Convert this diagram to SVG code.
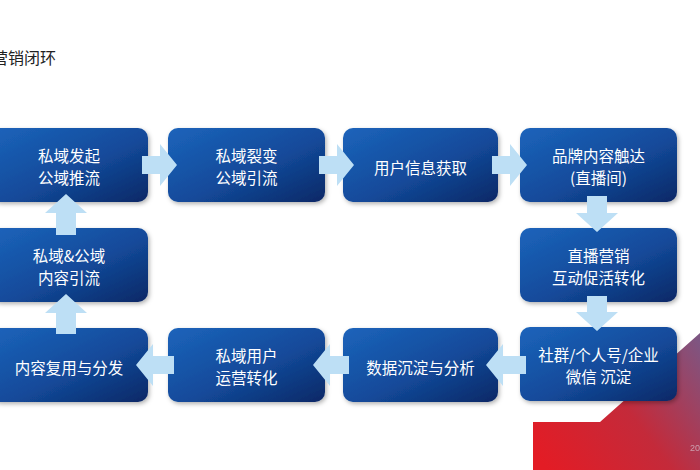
<svg xmlns="http://www.w3.org/2000/svg" width="700" height="470" viewBox="0 0 700 470">
<defs>
<linearGradient id="boxg" x1="0" y1="0" x2="1" y2="1">
<stop offset="0" stop-color="#1c64bb"/>
<stop offset="0.55" stop-color="#134a9a"/>
<stop offset="1" stop-color="#0a2866"/>
</linearGradient>
<linearGradient id="redg" gradientUnits="userSpaceOnUse" x1="540" y1="460" x2="700" y2="340">
<stop offset="0" stop-color="#e31c25"/>
<stop offset="0.5" stop-color="#c42a3a"/>
<stop offset="1" stop-color="#7d5683"/>
</linearGradient>
<filter id="sh" x="-10%" y="-10%" width="125%" height="130%">
<feDropShadow dx="1.5" dy="2" stdDeviation="2" flood-color="#000" flood-opacity="0.3"/>
</filter>
</defs>
<style>
.box{fill:url(#boxg);filter:url(#sh)}
.t{font-family:"Noto Sans CJK SC","Noto Sans",sans-serif;font-size:15.5px;fill:#ffffff;text-anchor:middle;dominant-baseline:central}
.arr{fill:#bddff5}
.title{font-family:"Noto Sans CJK SC","Noto Sans",sans-serif;font-size:16px;fill:#222}
</style>
<rect width="700" height="470" fill="#ffffff"/>
<polygon points="533,470 533,422 600,422 700,333 700,470" fill="url(#redg)"/>
<text x="690" y="451" font-family="Liberation Sans, sans-serif" font-size="9" fill="#d8c8d4" opacity="0.7">20</text>
<text class="title" x="-8" y="64">营销闭环</text>

<g id="n1"><rect class="box" x="-10" y="128" width="158" height="74" rx="10"/><text class="t" x="69" y="155">私域发起</text><text class="t" x="69" y="177">公域推流</text></g>
<g id="n2"><rect class="box" x="168" y="128" width="157" height="74" rx="10"/><text class="t" x="246.5" y="155">私域裂变</text><text class="t" x="246.5" y="177">公域引流</text></g>
<g id="n3"><rect class="box" x="343" y="128" width="155" height="74" rx="10"/><text class="t" x="420.5" y="167">用户信息获取</text></g>
<g id="n4"><rect class="box" x="520" y="128" width="157" height="74" rx="10"/><text class="t" x="598.5" y="155">品牌内容触达</text><text class="t" x="598.5" y="177">(直播间)</text></g>
<g id="n5"><rect class="box" x="520" y="228" width="157" height="74" rx="10"/><text class="t" x="598.5" y="255">直播营销</text><text class="t" x="598.5" y="277">互动促活转化</text></g>
<g id="n6"><rect class="box" x="520" y="327" width="157" height="74" rx="10"/><text class="t" x="598.5" y="354">社群/个人号/企业</text><text class="t" x="598.5" y="376">微信 沉淀</text></g>
<g id="n7"><rect class="box" x="343" y="328" width="155" height="74" rx="10"/><text class="t" x="420.5" y="367">数据沉淀与分析</text></g>
<g id="n8"><rect class="box" x="168" y="328" width="157" height="74" rx="10"/><text class="t" x="246.5" y="355">私域用户</text><text class="t" x="246.5" y="377">运营转化</text></g>
<g id="n9"><rect class="box" x="-10" y="328" width="158" height="74" rx="10"/><text class="t" x="69" y="367">内容复用与分发</text></g>
<g id="n10"><rect class="box" x="-10" y="228" width="158" height="74" rx="10"/><text class="t" x="69" y="255">私域&amp;公域</text><text class="t" x="69" y="277">内容引流</text></g>

<g id="connectors">
<polygon class="arr" points="142,156 160,156 160,144 177,165 160,186 160,174 142,174"/>
<polygon class="arr" points="319,156 337,156 337,144 354,165 337,186 337,174 319,174"/>
<polygon class="arr" points="492,156 510,156 510,144 527,165 510,186 510,174 492,174"/>
<polygon class="arr" points="587,196 607,196 607,213 618,213 597,232 576,213 587,213"/>
<polygon class="arr" points="587,296 607,296 607,312 618,312 597,331 576,312 587,312"/>
<polygon class="arr" points="526,356 503,356 503,344 486,365 503,386 503,374 526,374"/>
<polygon class="arr" points="349,356 330,356 330,344 313,365 330,386 330,374 349,374"/>
<polygon class="arr" points="174,356 153,356 153,344 136,365 153,386 153,374 174,374"/>
<polygon class="arr" points="56,334 76,334 76,313 87,313 66,294 45,313 56,313"/>
<polygon class="arr" points="56,235 76,235 76,213 87,213 66,194 45,213 56,213"/>
</g>
</svg>
